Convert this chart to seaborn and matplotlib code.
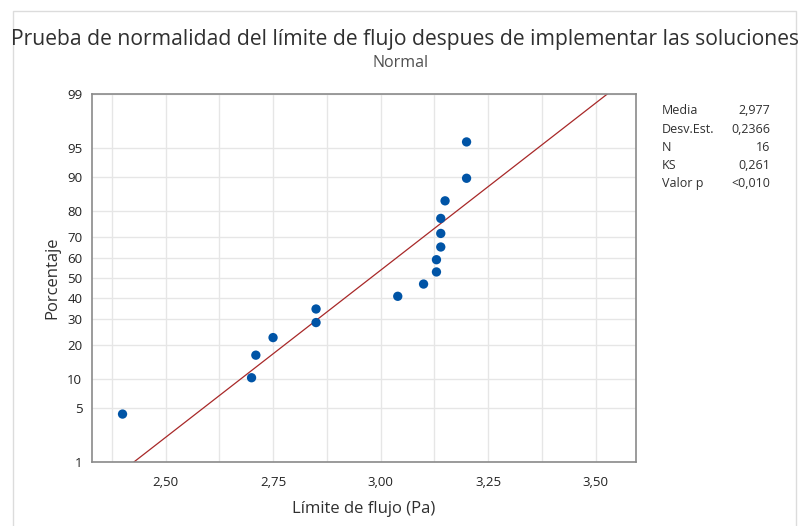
import matplotlib
matplotlib.use("Agg")
import matplotlib.pyplot as plt
import seaborn as sns
import pandas as pd
import numpy as np
from statistics import NormalDist
from matplotlib.patches import Rectangle

# ---- data ----
limite = [2.40, 2.70, 2.71, 2.75, 2.85, 2.85, 3.04, 3.10, 3.13, 3.13,
          3.14, 3.14, 3.14, 3.15, 3.20, 3.20]
pct_ticks = [1, 5, 10, 20, 30, 40, 50, 60, 70, 80, 90, 95, 99]
x_ticks = [2.50, 2.75, 3.00, 3.25, 3.50]
x_tick_labels = ["2,50", "2,75", "3,00", "3,25", "3,50"]
stat_names = ["Media", "Desv.Est.", "N", "KS", "Valor p"]
stat_values = ["2,977", "0,2366", "16", "0,261", "<0,010"]

nd = NormalDist()
n = len(limite)
xs = sorted(limite)
probs = [(i + 1 - 0.3) / (n + 0.4) for i in range(n)]
df = pd.DataFrame({"x": xs, "z": [nd.inv_cdf(p) for p in probs]})
mean = float(np.mean(limite))
sd = float(np.std(limite, ddof=1))
zlo, zhi = nd.inv_cdf(0.01), nd.inv_cdf(0.99)
fit = pd.DataFrame({"x": [mean + zlo * sd, mean + zhi * sd], "z": [zlo, zhi]})

sns.set_theme(style="white")
plt.rcParams["font.family"] = ["Open Sans", "DejaVu Sans"]

W, H = 802, 526
fig = plt.figure(figsize=(W / 100, H / 100), dpi=100)
ax = fig.add_axes([92 / W, 1 - 462 / H, (636 - 92) / W, (462 - 94) / H])

# grid
for p in pct_ticks:
    ax.axhline(nd.inv_cdf(p / 100), color="#e6e6e6", lw=1, zorder=0)
for gx in np.arange(2.375, 3.6, 0.125):
    ax.axvline(gx, color="#e6e6e6", lw=1, zorder=0)

sns.lineplot(data=fit, x="x", y="z", color="#a82828", lw=0.9, ax=ax, zorder=2)
sns.scatterplot(data=df, x="x", y="z", color="#0054a6", s=45, edgecolor="none",
                ax=ax, zorder=3)

ax.set_xlim(2.329, 3.594)
ax.set_ylim(zlo, zhi)
ax.set_yticks([nd.inv_cdf(p / 100) for p in pct_ticks])
ax.set_yticklabels([str(p) for p in pct_ticks])
ax.set_xticks(x_ticks)
ax.set_xticklabels(x_tick_labels)
ax.tick_params(axis="both", direction="out", length=4, width=1, color="#8a8a8a",
               labelsize=9.5, labelcolor="#222222", pad=3)
ax.tick_params(axis="x", pad=6)
for s in ax.spines.values():
    s.set_color("#8a8a8a")
    s.set_linewidth(1.2)
    s.set_visible(True)
ax.set_xlabel("Límite de flujo (Pa)", fontsize=12, color="#303030", labelpad=9)
ax.set_ylabel("Porcentaje", fontsize=12, color="#303030", labelpad=5)

# frame
fig.add_artist(Rectangle((13 / W, -0.1), (796 - 13) / W, 1.1 - 11 / H,
                         transform=fig.transFigure, fill=False,
                         edgecolor="#dcdcdc", lw=1))

fig.text(405 / W, 1 - 40 / H,
         "Prueba de normalidad del límite de flujo despues de implementar las soluciones",
         ha="center", va="center", fontsize=15.2, color="#303030")
fig.text(401 / W, 1 - 63 / H, "Normal", ha="center", va="center",
         fontsize=11.5, color="#505050")

for i, (nm, val) in enumerate(zip(stat_names, stat_values)):
    y = 1 - (111 + i * 18.2) / H
    fig.text(662 / W, y, nm, ha="left", va="center", fontsize=9, color="#303030")
    fig.text(770 / W, y, val, ha="right", va="center", fontsize=9, color="#303030")

fig.savefig("out.png", dpi=100, facecolor="white")
